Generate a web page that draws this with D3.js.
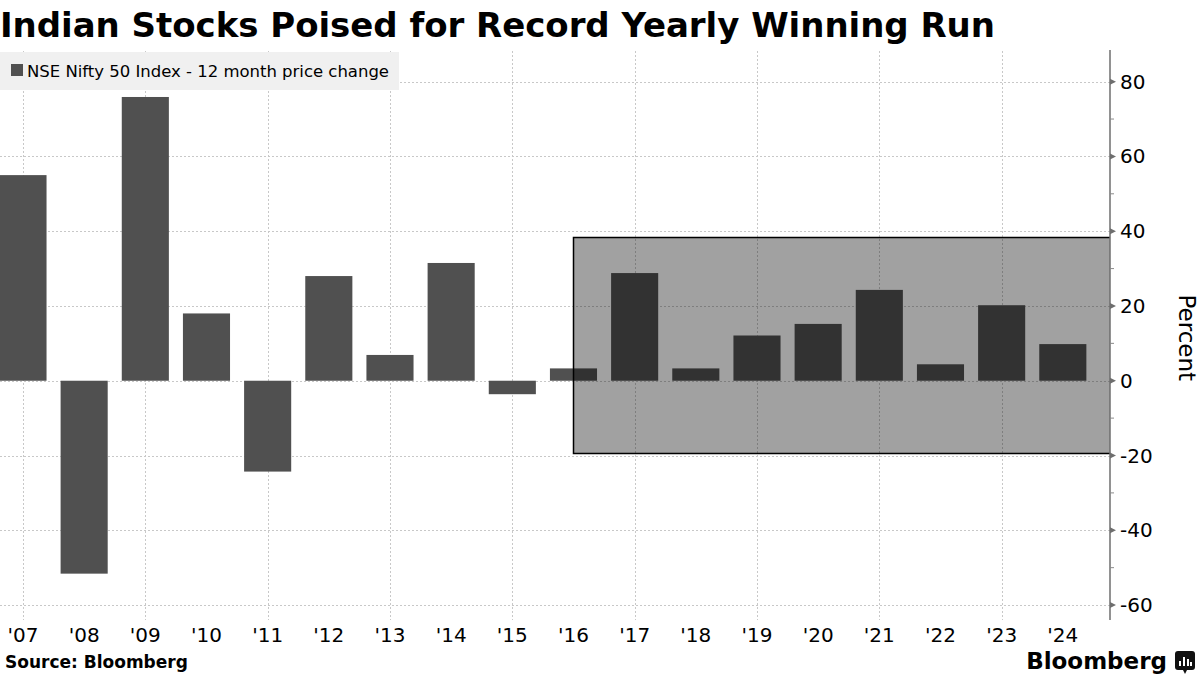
<!DOCTYPE html>
<html lang="en">
<head>
    <meta charset="UTF-8">
    <title>Indian Stocks Poised for Record Yearly Winning Run</title>
    <script src="https://d3js.org/d3.v7.min.js"></script>
    <style>
        body { margin: 0; background: #fff; }
        svg { display: block; }
        text { font-family: "DejaVu Sans", sans-serif; fill: #000; }
    </style>
</head>
<body>
    <script>
        // data
        const years = ["'07", "'08", "'09", "'10", "'11", "'12", "'13", "'14", "'15",
                       "'16", "'17", "'18", "'19", "'20", "'21", "'22", "'23", "'24"];
        const change = [55.0, -51.6, 75.9, 18.0, -24.3, 28.0, 6.9, 31.5, -3.6,
                        3.3, 28.8, 3.3, 12.1, 15.2, 24.3, 4.4, 20.2, 9.8];
        const yTicks = [-60, -40, -20, 0, 20, 40, 60, 80];
        const minorTicks = [-50, -30, -10, 10, 30, 50, 70];
        const gridYears = ["'07", "'09", "'11", "'13", "'15", "'17", "'19", "'21", "'23"];
        // highlighted record run: from '16 to the end, -19.4% .. 38.4%
        const boxFrom = "'16";
        const boxRange = [-19.4, 38.4];

        const width = 1200, height = 675;
        const axisX = 1110;

        const svg = d3.select("body").append("svg")
            .attr("width", width)
            .attr("height", height);

        const x = d3.scaleBand()
            .domain(years)
            .range([-7.6, 1093.4])
            .paddingInner(0.23)
            .paddingOuter(0.115);

        const y = d3.scaleLinear()
            .domain([-64, 88.2])
            .range([620, 51]);

        // gridlines
        const grid = svg.append("g").attr("stroke", "#c8c8c8").attr("stroke-dasharray", "2,2");
        grid.selectAll("line.h")
            .data(yTicks)
            .join("line")
            .attr("class", "h")
            .attr("x1", 0).attr("x2", axisX)
            .attr("y1", d => Math.round(y(d)) + 0.5).attr("y2", d => Math.round(y(d)) + 0.5);
        grid.selectAll("line.v")
            .data(gridYears)
            .join("line")
            .attr("class", "v")
            .attr("x1", d => Math.round(x(d) + x.bandwidth() / 2) + 0.5)
            .attr("x2", d => Math.round(x(d) + x.bandwidth() / 2) + 0.5)
            .attr("y1", 51).attr("y2", 620);

        // bars
        svg.append("g").selectAll("rect")
            .data(years.map((yr, i) => ({ yr, v: change[i] })))
            .join("rect")
            .attr("x", d => x(d.yr))
            .attr("width", x.bandwidth())
            .attr("y", d => y(Math.max(0, d.v)))
            .attr("height", d => Math.abs(y(d.v) - y(0)))
            .attr("fill", "#505050");

        // shaded overlay for the current winning run
        const bx = Math.round(x(boxFrom) + x.bandwidth() / 2) + 0.5;
        const by1 = Math.round(y(boxRange[1])) + 0.5;
        const by0 = Math.round(y(boxRange[0])) + 0.5;
        svg.append("rect")
            .attr("x", bx).attr("y", by1)
            .attr("width", axisX - bx).attr("height", by0 - by1)
            .attr("fill", "rgba(0,0,0,0.37)");
        svg.append("path")
            .attr("d", `M${axisX},${by1}H${bx}V${by0}H${axisX}`)
            .attr("fill", "none")
            .attr("stroke", "#000")
            .attr("stroke-width", 1.5);

        // right axis
        const ax = svg.append("g");
        ax.append("line")
            .attr("x1", axisX).attr("x2", axisX)
            .attr("y1", 50).attr("y2", 620)
            .attr("stroke", "#6e6e6e").attr("stroke-width", 1.5);
        ax.selectAll("path.tri")
            .data(yTicks)
            .join("path")
            .attr("class", "tri")
            .attr("d", d => `M${axisX},${y(d) - 3}L${axisX + 6},${y(d)}L${axisX},${y(d) + 3}Z`)
            .attr("fill", "#6e6e6e");
        ax.selectAll("line.minor")
            .data(minorTicks)
            .join("line")
            .attr("class", "minor")
            .attr("x1", axisX).attr("x2", axisX + 4)
            .attr("y1", d => y(d)).attr("y2", d => y(d))
            .attr("stroke", "#8a8a8a");
        ax.selectAll("text")
            .data(yTicks)
            .join("text")
            .attr("x", axisX + 10)
            .attr("y", d => y(d))
            .attr("dy", "0.35em")
            .attr("font-size", 20)
            .text(d => d < 0 ? "-" + Math.abs(d) : d);

        svg.append("text")
            .attr("transform", `translate(1179,${y(11.5)}) rotate(90)`)
            .attr("text-anchor", "middle")
            .attr("font-size", 23)
            .text("Percent");

        // x labels
        svg.append("g").selectAll("text")
            .data(years)
            .join("text")
            .attr("x", d => x(d) + x.bandwidth() / 2)
            .attr("y", 642)
            .attr("text-anchor", "middle")
            .attr("font-size", 20)
            .text(d => d);

        // legend
        const lg = svg.append("g");
        lg.append("rect")
            .attr("x", 0).attr("y", 52).attr("width", 399).attr("height", 38)
            .attr("fill", "#f0f0f0");
        lg.append("rect")
            .attr("x", 11).attr("y", 64).attr("width", 12).attr("height", 12)
            .attr("fill", "#505050");
        lg.append("text")
            .attr("x", 27).attr("y", 77)
            .attr("font-size", 16.5)
            .attr("textLength", 362)
            .text("NSE Nifty 50 Index - 12 month price change");

        // title and footer
        svg.append("text")
            .attr("x", 0).attr("y", 37)
            .attr("font-family", "'DejaVu Sans Condensed', 'DejaVu Sans', sans-serif")
            .attr("font-size", 34)
            .attr("font-weight", "bold")
            .attr("textLength", 995)
            .text("Indian Stocks Poised for Record Yearly Winning Run");

        svg.append("text")
            .attr("x", 5).attr("y", 668)
            .attr("font-size", 17)
            .attr("font-weight", "bold")
            .text("Source: Bloomberg");

        svg.append("text")
            .attr("x", 1167).attr("y", 669)
            .attr("text-anchor", "end")
            .attr("font-family", "Liberation Sans, sans-serif")
            .attr("font-size", 23)
            .attr("font-weight", "bold")
            .text("Bloomberg");

        // small logo glyph
        const logo = svg.append("g").attr("transform", "translate(1175,651)");
        logo.append("rect").attr("width", 20).attr("height", 19).attr("rx", 3).attr("fill", "#111");
        logo.append("path").attr("d", "M8,19L10,23L12,19Z").attr("fill", "#111");
        [[4, 10], [8, 6], [12, 8], [15, 11]].forEach(([lx, top]) => {
            logo.append("rect").attr("x", lx).attr("y", top).attr("width", 2).attr("height", 15 - top).attr("fill", "#fff");
        });
    </script>
</body>
</html>
